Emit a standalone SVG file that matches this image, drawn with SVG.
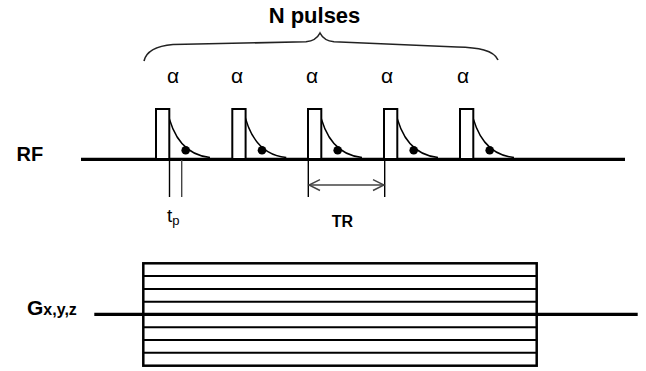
<svg xmlns="http://www.w3.org/2000/svg" xmlns:xlink="http://www.w3.org/1999/xlink" width="646" height="371" viewBox="0 0 646 371">
  <style>
    .lbl { font-family: "Liberation Sans", Arial, sans-serif; fill: #000; }
    .bold { font-weight: bold; }
    .axis { stroke: #000; stroke-width: 3.3; fill: none; }
    .thin { stroke: #000; stroke-width: 1.4; fill: none; }
    .grey { stroke: #444; stroke-width: 1.4; fill: none; }
    .pulse { stroke: #000; stroke-width: 2; fill: #fff; }
    .decay { stroke: #000; stroke-width: 1.4; fill: none; }
    .stripe { stroke: #000; stroke-width: 2; }
  </style>
  <defs>
    <!-- one RF pulse: block, decay curve and sample point; x origin at pulse left edge -->
    <g id="rfPulse">
      <path class="decay" d="M11,109 C16,135 29,155 54,157.5"/>
      <rect class="pulse" x="0" y="109" width="13.3" height="50"/>
      <circle cx="29.7" cy="150.3" r="4.3" fill="#000"/>
    </g>
  </defs>

  <rect width="646" height="371" fill="#fff"/>

  <!-- Title and brace -->
  <g id="title">
    <text class="lbl bold" x="314.5" y="23" font-size="22" text-anchor="middle">N pulses</text>
    <path d="M144,61 C146,52 156,46 173,44.5 L306,41.8 C314,41 318,37 320,33 C322,37 326,41 334,41.8 L457,47 C478,47.5 494,50 498,60" stroke="#222" stroke-width="1.6" fill="none"/>
  </g>

  <!-- flip angle labels -->
  <g id="alphas" class="lbl" font-size="21" text-anchor="middle">
    <text x="173" y="83">α</text>
    <text x="237" y="83">α</text>
    <text x="312" y="83">α</text>
    <text x="387" y="83">α</text>
    <text x="463" y="83">α</text>
  </g>

  <!-- RF channel -->
  <g id="rf">
    <text class="lbl bold" x="16.5" y="160.5" font-size="20">RF</text>
    <line class="axis" x1="81" y1="159.3" x2="625" y2="159.3"/>
    <use xlink:href="#rfPulse" x="156" y="0"/>
    <use xlink:href="#rfPulse" x="232.3" y="0"/>
    <use xlink:href="#rfPulse" x="308" y="0"/>
    <use xlink:href="#rfPulse" x="384" y="0"/>
    <use xlink:href="#rfPulse" x="460" y="0"/>
  </g>

  <!-- pulse duration marker -->
  <g id="tp">
    <line class="thin" x1="169.5" y1="160" x2="169.5" y2="197"/>
    <line class="grey" x1="181.7" y1="160" x2="181.7" y2="197"/>
    <text class="lbl" x="167" y="221.7" font-size="19">t<tspan font-size="13" dy="3">p</tspan></text>
  </g>

  <!-- repetition time marker -->
  <g id="tr">
    <line class="thin" x1="308.3" y1="160" x2="308.3" y2="197"/>
    <line class="thin" x1="384.7" y1="160" x2="384.7" y2="197"/>
    <line class="grey" x1="309" y1="185" x2="384" y2="185"/>
    <polyline class="grey" points="320,179.7 309,185 320,190.5"/>
    <polyline class="grey" points="373,179.7 384,185 373,190.5"/>
    <text class="lbl bold" x="342.3" y="226.7" font-size="16" text-anchor="middle">TR</text>
  </g>

  <!-- gradient channel -->
  <g id="gradient">
    <text class="lbl bold" x="27" y="315" font-size="21">G<tspan font-size="16">x,y,z</tspan></text>
    <line class="stripe" x1="143.3" y1="276" x2="536.7" y2="276"/>
    <line class="stripe" x1="143.3" y1="289" x2="536.7" y2="289"/>
    <line class="stripe" x1="143.3" y1="301.7" x2="536.7" y2="301.7"/>
    <line class="stripe" x1="143.3" y1="327.3" x2="536.7" y2="327.3"/>
    <line class="stripe" x1="143.3" y1="340" x2="536.7" y2="340"/>
    <line class="stripe" x1="143.3" y1="352.7" x2="536.7" y2="352.7"/>
    <rect x="143.3" y="263.3" width="393.4" height="102.4" fill="none" stroke="#000" stroke-width="2.5"/>
    <line class="axis" x1="94.3" y1="314.4" x2="637.7" y2="314.4"/>
  </g>
</svg>
